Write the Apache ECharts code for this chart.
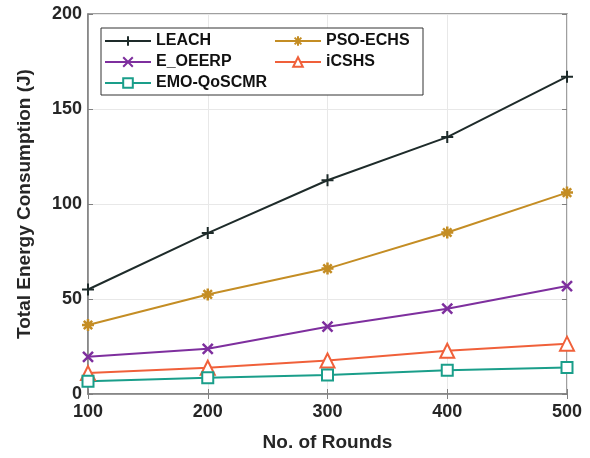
<!DOCTYPE html>
<html>
<head>
<meta charset="utf-8">
<script src="https://cdn.jsdelivr.net/npm/echarts@6/dist/echarts.min.js"></script>
<style>
  html, body { margin: 0; padding: 0; background: #fff; }
  #main { width: 590px; height: 458px; }
</style>
</head>
<body>
<div id="main"></div>
<script>
// data
const rounds = [100, 200, 300, 400, 500];
const leach = [55, 84.7, 112.5, 135.2, 167];
const psoEchs = [36.3, 52.4, 66, 85, 106];
const eOeerp = [19.6, 23.8, 35.4, 44.9, 56.8];
const icshs = [11, 13.8, 17.6, 22.8, 26.5];
const emoQoscmr = [6.7, 8.6, 10, 12.5, 14];
const yTicks = [0, 50, 100, 150, 200];

const font = 'Liberation Sans, Arial, sans-serif';
const axisGray = '#808080';

// marker shapes (stroked)
const plusPath = 'path://M5,0L5,10M0,5L10,5';
const crossPath = 'path://M0,0L10,10M10,0L0,10';
const starPath = 'path://M5,0L5,10M0,5L10,5M1.5,1.5L8.5,8.5M8.5,1.5L1.5,8.5';
const triPath = 'path://M5,0L10,9L0,9Z';
const sqPath = 'path://M0,0L10,0L10,10L0,10Z';

function makeSeries(name, data, color, symbol, size, hollow, bw) {
  return {
    name: name,
    type: 'line',
    data: rounds.map((r, i) => [r, data[i]]),
    symbol: symbol,
    symbolSize: size,
    showAllSymbol: true,
    lineStyle: { color: color, width: 2 },
    itemStyle: {
      color: hollow ? '#fff' : color,
      borderColor: color,
      borderWidth: bw || 2
    },
    z: 3
  };
}

const chart = echarts.init(document.getElementById('main'));

const legendText = { fontFamily: font, fontWeight: 'bold', fontSize: 16, color: '#111' };

const option = {
  backgroundColor: '#fff',
  animation: false,
  grid: { left: 88, right: 23, top: 14, bottom: 64, show: true, borderColor: axisGray, borderWidth: 1.5 },
  xAxis: [{
    type: 'value',
    min: 100, max: 500, interval: 100,
    name: 'No. of Rounds',
    nameLocation: 'middle',
    nameGap: 39,
    nameTextStyle: { fontFamily: font, fontWeight: 'bold', fontSize: 19, color: '#262626' },
    axisLine: { show: true, lineStyle: { color: axisGray, width: 1.5 } },
    axisTick: { show: true, inside: true, length: 5, lineStyle: { color: axisGray } },
    axisLabel: { fontFamily: font, fontWeight: 'bold', fontSize: 18, color: '#262626', margin: 9 },
    splitLine: { show: true, lineStyle: { color: '#e8e8e8', width: 1 } }
  }, {
    type: 'value', position: 'top',
    min: 100, max: 500, interval: 100,
    axisLine: { show: false },
    axisTick: { show: true, inside: true, length: 5, lineStyle: { color: axisGray } },
    axisLabel: { show: false },
    splitLine: { show: false }
  }],
  yAxis: [{
    type: 'value',
    min: 0, max: 200, interval: 50,
    name: 'Total Energy Consumption (J)',
    nameLocation: 'middle',
    nameGap: 54,
    nameTextStyle: { fontFamily: font, fontWeight: 'bold', fontSize: 19, color: '#262626' },
    axisLine: { show: true, lineStyle: { color: axisGray, width: 1.5 } },
    axisTick: { show: true, inside: true, length: 5, lineStyle: { color: axisGray } },
    axisLabel: {
      fontFamily: font, fontWeight: 'bold', fontSize: 18, color: '#262626', margin: 6,
      formatter: v => yTicks.includes(v) ? String(v) : ''
    },
    splitLine: { show: true, lineStyle: { color: '#e8e8e8', width: 1 } }
  }, {
    type: 'value', position: 'right',
    min: 0, max: 200, interval: 50,
    axisLine: { show: false },
    axisTick: { show: true, inside: true, length: 5, lineStyle: { color: axisGray } },
    axisLabel: { show: false },
    splitLine: { show: false }
  }],
  legend: [{
    orient: 'vertical',
    left: 99, top: 28,
    itemWidth: 46, itemHeight: 12, itemGap: 5,
    data: ['LEACH', 'E_OEERP', 'EMO-QoSCMR'],
    textStyle: legendText
  }, {
    orient: 'vertical',
    left: 269, top: 28,
    itemWidth: 46, itemHeight: 12, itemGap: 5,
    data: ['PSO-ECHS', 'iCSHS'],
    textStyle: legendText
  }],
  graphic: [{
    type: 'rect',
    shape: { x: 101, y: 28, width: 322, height: 67 },
    style: { fill: '#fff', stroke: '#333', lineWidth: 1 },
    z: 4
  }],
  series: [
    makeSeries('LEACH', leach, '#1e2b2a', plusPath, 12, false),
    makeSeries('PSO-ECHS', psoEchs, '#c48d24', starPath, 12, false, 2.5),
    makeSeries('E_OEERP', eOeerp, '#7e2f9e', crossPath, 10, false, 2.5),
    makeSeries('iCSHS', icshs, '#f0603a', triPath, 14, true),
    makeSeries('EMO-QoSCMR', emoQoscmr, '#1a9e8a', sqPath, 11, true)
  ]
};

chart.setOption(option);
</script>
</body>
</html>
